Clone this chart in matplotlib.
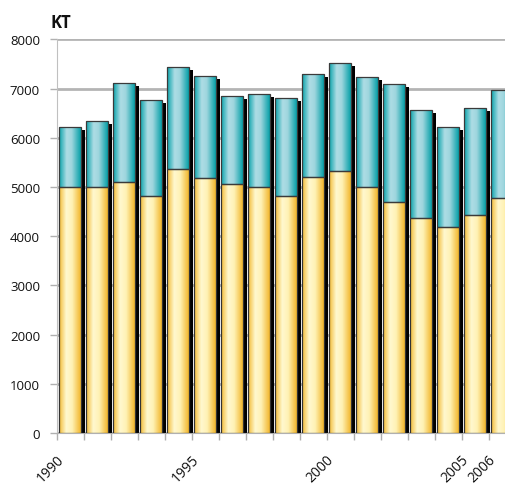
import numpy as np
import matplotlib
matplotlib.use("Agg")
import matplotlib.pyplot as plt
from matplotlib.colors import LinearSegmentedColormap
from matplotlib.transforms import ScaledTranslation

plt.rcParams['font.family'] = ['Open Sans', 'DejaVu Sans']

# data (kt)
years = list(range(1990, 2007))
lower = [5000, 5005, 5100, 4810, 5355, 5190, 5055, 4995, 4820, 5200,
         5320, 4995, 4700, 4360, 4180, 4420, 4770]
total = [6220, 6340, 7110, 6770, 7430, 7260, 6840, 6880, 6810, 7290,
         7510, 7240, 7090, 6570, 6220, 6610, 6970]
upper = [t - l for t, l in zip(total, lower)]
shown_labels = {1990, 1995, 2000, 2005, 2006}

fig = plt.figure(figsize=(5.05, 4.85), dpi=100)
ax = fig.add_axes([56.7 / 505, 51 / 485, 459 / 505, 393.7 / 485])

x = np.arange(len(years))
w = 0.8

# shadow behind each stacked bar
shadow = ScaledTranslation(3.5 / 100, -3 / 100, fig.dpi_scale_trans)
ax.bar(x, total, w, color='black', zorder=2, transform=ax.transData + shadow)

yellow = LinearSegmentedColormap.from_list('y', [(0, '#f3bb35'), (0.33, '#fff8cf'),
                                                 (0.6, '#fff2b5'), (1, '#f2b62c')])
teal = LinearSegmentedColormap.from_list('t', [(0, '#0aa3ab'), (0.35, '#aedde5'),
                                               (0.58, '#9fd6de'), (1, '#06a0a8')])
grad = np.linspace(0, 1, 64).reshape(1, -1)


def gradient_bars(bars, cmap):
    for b in bars:
        x0, y0 = b.get_x(), b.get_y()
        im = ax.imshow(grad, cmap=cmap, aspect='auto', zorder=3,
                       extent=(x0, x0 + b.get_width(), y0, y0 + b.get_height()))
        im.set_clip_path(b)


b1 = ax.bar(x, lower, w, facecolor='none', edgecolor='#333333', lw=0.9, zorder=4)
b2 = ax.bar(x, upper, w, bottom=lower, facecolor='none', edgecolor='#3a3a3a', lw=0.9, zorder=4)
gradient_bars(b1, yellow)
gradient_bars(b2, teal)

ax.set_xlim(-0.5, len(years) - 0.5)
ax.set_ylim(0, 8000)
ax.set_yticks(range(0, 8001, 1000))
ax.yaxis.grid(True, color='#b4b4b4', lw=2.0, zorder=0)
ax.set_axisbelow(True)

ax.set_xticks(x - 0.5, minor=True)
ax.set_xticks([])
off = ScaledTranslation(-14 / 100, -19 / 100, fig.dpi_scale_trans)
for i, yr in enumerate(years):
    if yr in shown_labels:
        ax.text(i, 0, str(yr), transform=ax.get_xaxis_transform() + off,
                rotation=45, ha='right', va='top', rotation_mode='anchor',
                fontsize=10, color='#111111', clip_on=False)

ax.tick_params(axis='x', which='minor', length=5, color='#b0b0b0', width=1)
ax.tick_params(axis='y', length=5, color='#b0b0b0', width=1, labelsize=9.5,
               pad=7, labelcolor='#111111')

for s in ['top', 'right']:
    ax.spines[s].set_visible(False)
ax.spines['left'].set_color('#c0c0c0')
ax.spines['bottom'].set_color('#b0b0b0')

fig.text(50 / 505, 1 - 14 / 485, 'KT', fontsize=12, fontweight='bold',
         ha='left', va='top', color='#111111')

fig.savefig('out.png', dpi=100)
